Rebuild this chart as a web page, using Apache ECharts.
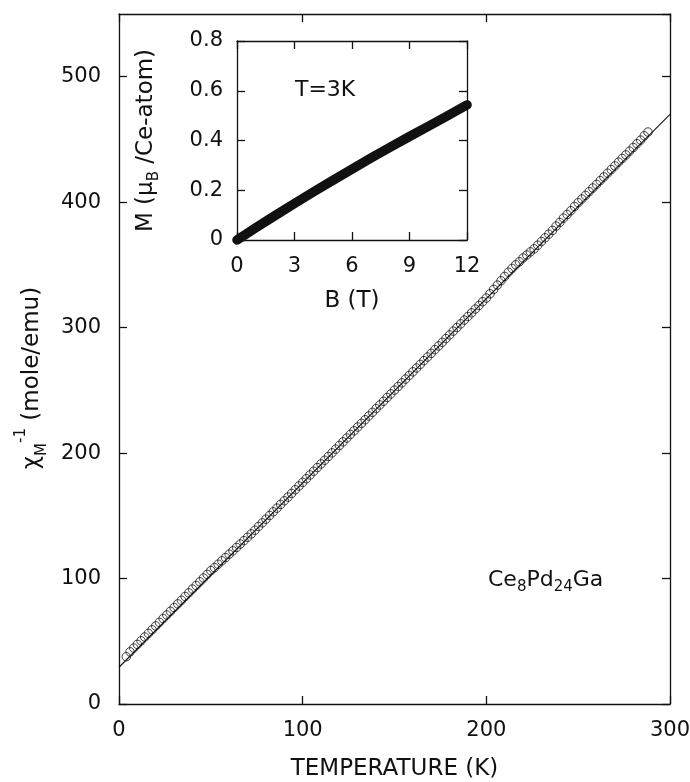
<!DOCTYPE html>
<html>
<head>
<meta charset="utf-8">
<script src="https://cdn.jsdelivr.net/npm/echarts@6/dist/echarts.min.js"></script>
<style>
  html, body { margin: 0; padding: 0; background: #fff; }
  #chart { width: 690px; height: 782px; }
</style>
</head>
<body>
<div id="chart"></div>
<script>
// main panel: inverse susceptibility vs temperature
var tempK = [4, 6, 8, 10, 12, 14, 16, 18, 20, 22, 24, 26, 28, 30, 32, 34, 36, 38, 40, 42, 44, 46, 48, 50,
  52, 54, 56, 58, 60, 62, 64, 66, 68, 70, 72, 74, 76, 78, 80, 82, 84, 86, 88, 90, 92, 94, 96, 98, 100,
  102, 104, 106, 108, 110, 112, 114, 116, 118, 120, 122, 124, 126, 128, 130, 132, 134, 136, 138, 140,
  142, 144, 146, 148, 150, 152, 154, 156, 158, 160, 162, 164, 166, 168, 170, 172, 174, 176, 178, 180,
  182, 184, 186, 188, 190, 192, 194, 196, 198, 200, 202, 204, 206, 208, 210, 212, 214, 216, 218, 220,
  222, 224, 226, 228, 230, 232, 234, 236, 238, 240, 242, 244, 246, 248, 250, 252, 254, 256, 258, 260,
  262, 264, 266, 268, 270, 272, 274, 276, 278, 280, 282, 284, 286, 288];
var chiInv = [37.7, 41.6, 44.6, 47.5, 50.4, 53.4, 56.3, 59.2, 62.2, 65.1, 68.1, 71.0, 73.9, 76.9, 79.8,
  82.7, 85.7, 88.6, 91.6, 94.5, 97.4, 100.4, 103.3, 106.3, 108.7, 111.4, 114.1, 116.7, 119.4, 122.1,
  124.8, 127.5, 130.2, 132.9, 135.6, 138.5, 141.5, 144.4, 147.3, 150.3, 153.2, 156.1, 159.1, 162.0,
  164.9, 167.9, 170.8, 173.8, 176.7, 179.6, 182.6, 185.5, 188.5, 191.4, 194.3, 197.3, 200.2, 203.1,
  206.1, 209.0, 212.0, 214.9, 217.8, 220.8, 223.7, 226.6, 229.6, 232.5, 235.5, 238.4, 241.3, 244.3,
  247.2, 250.2, 253.1, 256.0, 259.0, 261.9, 264.8, 267.8, 270.7, 273.7, 276.6, 279.5, 282.5, 285.4,
  288.3, 291.3, 294.2, 297.2, 300.1, 303.0, 306.0, 308.9, 311.8, 314.8, 317.7, 320.7, 323.6, 327.0,
  330.5, 333.9, 337.4, 340.8, 344.2, 347.2, 350.1, 352.5, 355.5, 357.9, 360.4, 362.8, 365.7, 368.7,
  371.6, 374.5, 377.5, 380.9, 383.9, 387.3, 390.2, 393.2, 396.6, 399.6, 402.5, 405.4, 408.4, 411.3,
  414.2, 417.2, 420.1, 423.1, 426.0, 428.9, 431.9, 434.8, 437.7, 440.7, 443.6, 446.6, 449.5, 452.9, 455.9];
// Curie-Weiss fit line
var fitT = [0, 300];
var fitChi = [29.3, 470];

// inset: magnetization at T = 3K
var fieldB = [0, 1, 2, 3, 4, 5, 6, 7, 8, 9, 10, 11, 12];
var magM = [0, 0.05, 0.099, 0.147, 0.194, 0.24, 0.285, 0.33, 0.373, 0.416, 0.458, 0.5, 0.543];

var FONT = 'DejaVu Sans';
var black = '#111';

function zip(a, b) {
  return a.map(function (v, i) { return [v, b[i]]; });
}

function axis(opt) {
  var base = {
    axisLine: { show: true, onZero: false, lineStyle: { color: black, width: 1.3 } },
    axisTick: { show: true, inside: true, length: 8, lineStyle: { color: black, width: 1.3 } },
    axisLabel: { show: true, color: black, fontFamily: FONT, fontSize: 21 },
    splitLine: { show: false },
    nameTextStyle: { color: black, fontFamily: FONT, fontSize: 23 }
  };
  for (var k in opt) {
    if (typeof opt[k] === 'object' && base[k]) {
      base[k] = Object.assign({}, base[k], opt[k]);
    } else {
      base[k] = opt[k];
    }
  }
  return base;
}

var chart = echarts.init(document.getElementById('chart'), null, { renderer: 'canvas' });

var option = {
  animation: false,
  backgroundColor: '#fff',
  grid: [
    { left: 119, top: 14, width: 551, height: 690, outerBoundsMode: 'none', containLabel: false },
    { left: 237, top: 41, width: 230, height: 199, outerBoundsMode: 'none', containLabel: false,
      show: true, backgroundColor: '#fff', borderWidth: 0 }
  ],
  xAxis: [
    axis({ gridIndex: 0, type: 'value', position: 'bottom', min: 0, max: 300, interval: 100,
      axisLabel: { margin: 16 },
      name: 'TEMPERATURE (K)', nameLocation: 'middle', nameGap: 54 }),
    axis({ gridIndex: 0, type: 'value', position: 'top', min: 0, max: 300, interval: 100,
      axisLabel: { show: false } }),
    axis({ gridIndex: 1, type: 'value', position: 'bottom', min: 0, max: 12, interval: 3,
      axisLabel: { margin: 16 },
      name: 'B (T)', nameLocation: 'middle', nameGap: 50 }),
    axis({ gridIndex: 1, type: 'value', position: 'top', min: 0, max: 12, interval: 3,
      axisLabel: { show: false } })
  ],
  yAxis: [
    axis({ gridIndex: 0, type: 'value', position: 'left', min: 0, max: 550, interval: 100,
      axisLabel: { margin: 18, showMaxLabel: false },
      name: '{a|χ}{sub|M}{sup|-1}{a| (mole/emu)}', nameLocation: 'middle', nameGap: 68, nameRotate: 90,
      nameTextStyle: {
        padding: [0, 38, 0, 0],
        rich: {
          a: { fontFamily: FONT, fontSize: 23, color: black, lineHeight: 36 },
          sub: { fontFamily: FONT, fontSize: 15, color: black, verticalAlign: 'bottom', lineHeight: 22 },
          sup: { fontFamily: FONT, fontSize: 15, color: black, verticalAlign: 'top', lineHeight: 18 }
        }
      } }),
    axis({ gridIndex: 0, type: 'value', position: 'right', min: 0, max: 550, interval: 100,
      axisLabel: { show: false } }),
    axis({ gridIndex: 1, type: 'value', position: 'left', min: 0, max: 0.8, interval: 0.2,
      axisLabel: { margin: 14 },
      name: '{a|M (μ}{sub|B}{a| /Ce-atom)}', nameLocation: 'middle', nameGap: 75, nameRotate: 90,
      nameTextStyle: {
        rich: {
          a: { fontFamily: FONT, fontSize: 23, color: black, lineHeight: 32 },
          sub: { fontFamily: FONT, fontSize: 15, color: black, verticalAlign: 'bottom', lineHeight: 22 }
        }
      } }),
    axis({ gridIndex: 1, type: 'value', position: 'right', min: 0, max: 0.8, interval: 0.2,
      axisLabel: { show: false } })
  ],
  series: [
    {
      name: 'data',
      type: 'scatter',
      xAxisIndex: 0, yAxisIndex: 0,
      data: zip(tempK, chiInv),
      symbol: 'circle',
      symbolSize: 8.5,
      itemStyle: { color: 'rgba(0,0,0,0)', borderColor: black, borderWidth: 1 },
      z: 3
    },
    {
      name: 'fit',
      type: 'line',
      xAxisIndex: 0, yAxisIndex: 0,
      data: zip(fitT, fitChi),
      showSymbol: false,
      lineStyle: { color: black, width: 1.1 },
      z: 4
    },
    {
      name: 'M(B)',
      type: 'line',
      xAxisIndex: 2, yAxisIndex: 2,
      data: zip(fieldB, magM),
      showSymbol: false,
      clip: false,
      lineStyle: { color: black, width: 9.5, cap: 'round', join: 'round' },
      z: 5
    }
  ],
  graphic: [
    { type: 'text', left: 295, top: 79, z: 10,
      style: { text: 'T=3K', font: '22px "DejaVu Sans"', fill: black } },
    { type: 'text', left: 488, top: 569, z: 10,
      style: {
        text: '{a|Ce}{s|8}{a|Pd}{s|24}{a|Ga}',
        rich: {
          a: { fontFamily: FONT, fontSize: 22, fill: black, lineHeight: 30 },
          s: { fontFamily: FONT, fontSize: 15, fill: black, verticalAlign: 'bottom', lineHeight: 22 }
        }
      } }
  ]
};

chart.setOption(option);
</script>
</body>
</html>
